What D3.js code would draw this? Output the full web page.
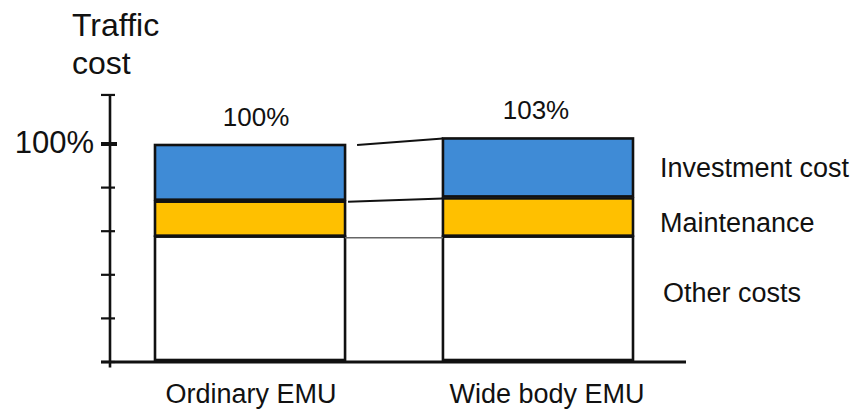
<!DOCTYPE html>
<html>
<head>
<meta charset="utf-8">
<script src="https://cdn.jsdelivr.net/npm/d3@7"></script>
<style>
  html, body { margin: 0; padding: 0; background: #fff; }
  svg { display: block; font-family: "Liberation Sans", Arial, sans-serif; }
</style>
</head>
<body>
<div id="chart"></div>
<script>
// ---- data ----
const categories = ["Ordinary EMU", "Wide body EMU"];
const seriesNames = ["Other costs", "Maintenance", "Investment cost"];
const otherCosts = [57.5, 57.5];
const maintenance = [16.5, 18];
const investment = [26, 27.5];
const totalLabels = ["100%", "103%"];
const yTicks = [0, 20, 40, 60, 80, 100];
const yTickLabel = "100%";
const axisTitle = ["Traffic", "cost"];

// ---- layout ----
const W = 856, H = 410;
const svg = d3.select("#chart").append("svg").attr("width", W).attr("height", H);

const y = d3.scaleLinear().domain([0, 100]).range([362, 144]);
const x = d3.scaleBand().domain(categories).range([155, 633]).paddingInner(0.34);
const colors = d3.scaleOrdinal().domain(seriesNames).range(["#ffffff", "#ffc000", "#3f8bd6"]);

const rows = categories.map((c, i) => ({
  cat: c, "Other costs": otherCosts[i], "Maintenance": maintenance[i], "Investment cost": investment[i]
}));
const stacked = d3.stack().keys(seriesNames)(rows);

// bars
const g = svg.append("g");
stacked.forEach(layer => {
  g.selectAll(null).data(layer).enter().append("rect")
    .attr("x", d => x(d.data.cat))
    .attr("width", x.bandwidth())
    .attr("y", d => y(d[1]) + (layer.key === "Other costs" ? 0 : 1))
    .attr("height", d => Math.max(0, y(d[0]) - y(d[1]) - (layer.key === "Other costs" ? 2 : 2)))
    .attr("fill", colors(layer.key))
    .attr("stroke", "#111")
    .attr("stroke-width", 2.6);
});

// connector lines between bars
const xa = x(categories[0]) + x.bandwidth();
const xb = x(categories[1]);
const connectors = [
  { k: 2, dx: 12, color: "#111", w: 2 },
  { k: 1, dx: 3, color: "#111", w: 2 },
  { k: 0, dx: 0, color: "#666", w: 1.5 }
];
connectors.forEach(cn => {
  svg.append("line")
    .attr("x1", xa + cn.dx).attr("y1", y(stacked[cn.k][0][1]) + 1)
    .attr("x2", xb).attr("y2", y(stacked[cn.k][1][1]) + 1)
    .attr("stroke", cn.color).attr("stroke-width", cn.w);
});

// y axis
const ax = 110;
svg.append("line").attr("x1", ax).attr("x2", ax).attr("y1", y(122.5)).attr("y2", y(-2.5))
  .attr("stroke", "#111").attr("stroke-width", 2.6);
svg.append("line").attr("x1", 101).attr("x2", 115).attr("y1", y(122.5)).attr("y2", y(122.5))
  .attr("stroke", "#111").attr("stroke-width", 2.2);
svg.selectAll(".tick").data(yTicks).enter().append("line")
  .attr("x1", 101).attr("x2", d => d === 100 ? 117 : 115)
  .attr("y1", d => y(d)).attr("y2", d => y(d))
  .attr("stroke", "#111").attr("stroke-width", d => d === 100 ? 4 : 2.2);
svg.append("text").attr("x", 94).attr("y", y(100) + 9)
  .attr("text-anchor", "end").attr("font-size", 31).attr("fill", "#111").text(yTickLabel);

// x axis baseline
svg.append("line").attr("x1", 101).attr("x2", 686).attr("y1", y(0)).attr("y2", y(0))
  .attr("stroke", "#111").attr("stroke-width", 3);

// axis title
svg.append("text").attr("x", 72).attr("y", 36).attr("font-size", 32).attr("fill", "#111").text(axisTitle[0]);
svg.append("text").attr("x", 72).attr("y", 74).attr("font-size", 32).attr("fill", "#111").text(axisTitle[1]);

// total labels
const totals = categories.map((c, i) => otherCosts[i] + maintenance[i] + investment[i]);
const labelShift = [6, -2];
svg.selectAll(".tot").data(categories).enter().append("text")
  .attr("x", (d, i) => x(d) + x.bandwidth() / 2 + labelShift[i])
  .attr("y", (d, i) => y(totals[i]) - 18)
  .attr("text-anchor", "middle").attr("font-size", 26).attr("fill", "#111")
  .text((d, i) => totalLabels[i]);

// category labels
const catShift = [1, 9];
svg.selectAll(".cat").data(categories).enter().append("text")
  .attr("x", (d, i) => x(d) + x.bandwidth() / 2 + catShift[i])
  .attr("y", 403)
  .attr("text-anchor", "middle").attr("font-size", 27).attr("fill", "#111")
  .text(d => d);

// series labels at the right
const lastRow = stacked.map(l => l[1]);
const legendPos = { "Investment cost": [660, 177], "Maintenance": [660, 232], "Other costs": [663, 302] };
seriesNames.forEach(s => {
  svg.append("text").attr("x", legendPos[s][0]).attr("y", legendPos[s][1])
    .attr("font-size", 27).attr("fill", "#111").text(s);
});
</script>
</body>
</html>
